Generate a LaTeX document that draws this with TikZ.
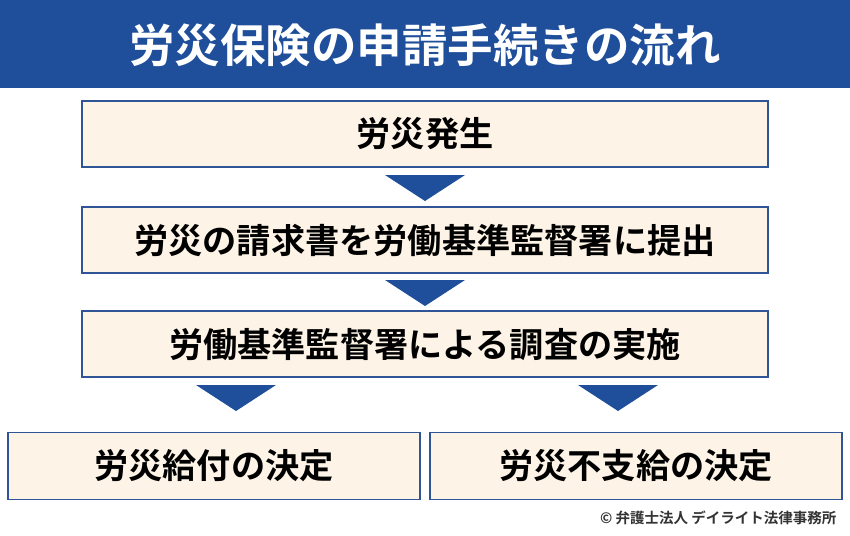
\documentclass[tikz,border=0pt]{standalone}
\usepackage{fontspec}
\newfontfamily\cjk{Noto Sans CJK JP Bold}
\definecolor{hdr}{HTML}{1F4E9A}
\definecolor{bx}{HTML}{FDF3E6}
\definecolor{bd}{HTML}{2F5597}
\begin{document}
\begin{tikzpicture}[x=1pt,y=-1pt,
  stepbox/.style={draw=bd,line width=1.5pt,fill=bx,inner sep=0pt,font=\cjk\fontsize{34.2}{34.2}\selectfont},
  tri/.style={fill=hdr}]
\useasboundingbox (0,0) rectangle (850,535);
\fill[white] (0,0) rectangle (850,535);
\fill[hdr] (0,0) rectangle (850,88);
\node[text=white,font=\cjk\fontsize{45.5}{45.5}\selectfont] (title) at (425,45) {労災保険の申請手続きの流れ};
\node[stepbox,minimum width=686pt,minimum height=66pt] (b1) at (425,134) {労災発生};
\node[stepbox,minimum width=686pt,minimum height=66pt] (b2) at (425,240) {労災の請求書を労働基準監督署に提出};
\node[stepbox,minimum width=686pt,minimum height=66pt] (b3) at (425,344) {労働基準監督署による調査の実施};
\node[stepbox,minimum width=412pt,minimum height=67pt] (b4) at (214,466) {労災給付の決定};
\node[stepbox,minimum width=412pt,minimum height=67pt] (b5) at (636,466) {労災不支給の決定};
\fill[tri] (385,175) -- (465,175) -- (425,201) -- cycle;
\fill[tri] (385,280) -- (465,280) -- (425,306) -- cycle;
\fill[tri] (196,385) -- (276,385) -- (236,411) -- cycle;
\fill[tri] (578,385) -- (658,385) -- (618,411) -- cycle;
\node[anchor=east,font=\cjk\fontsize{14.5}{14.5}\selectfont,text=black!80] (copy) at (840,518) {© 弁護士法人 デイライト法律事務所};
\end{tikzpicture}
\end{document}
